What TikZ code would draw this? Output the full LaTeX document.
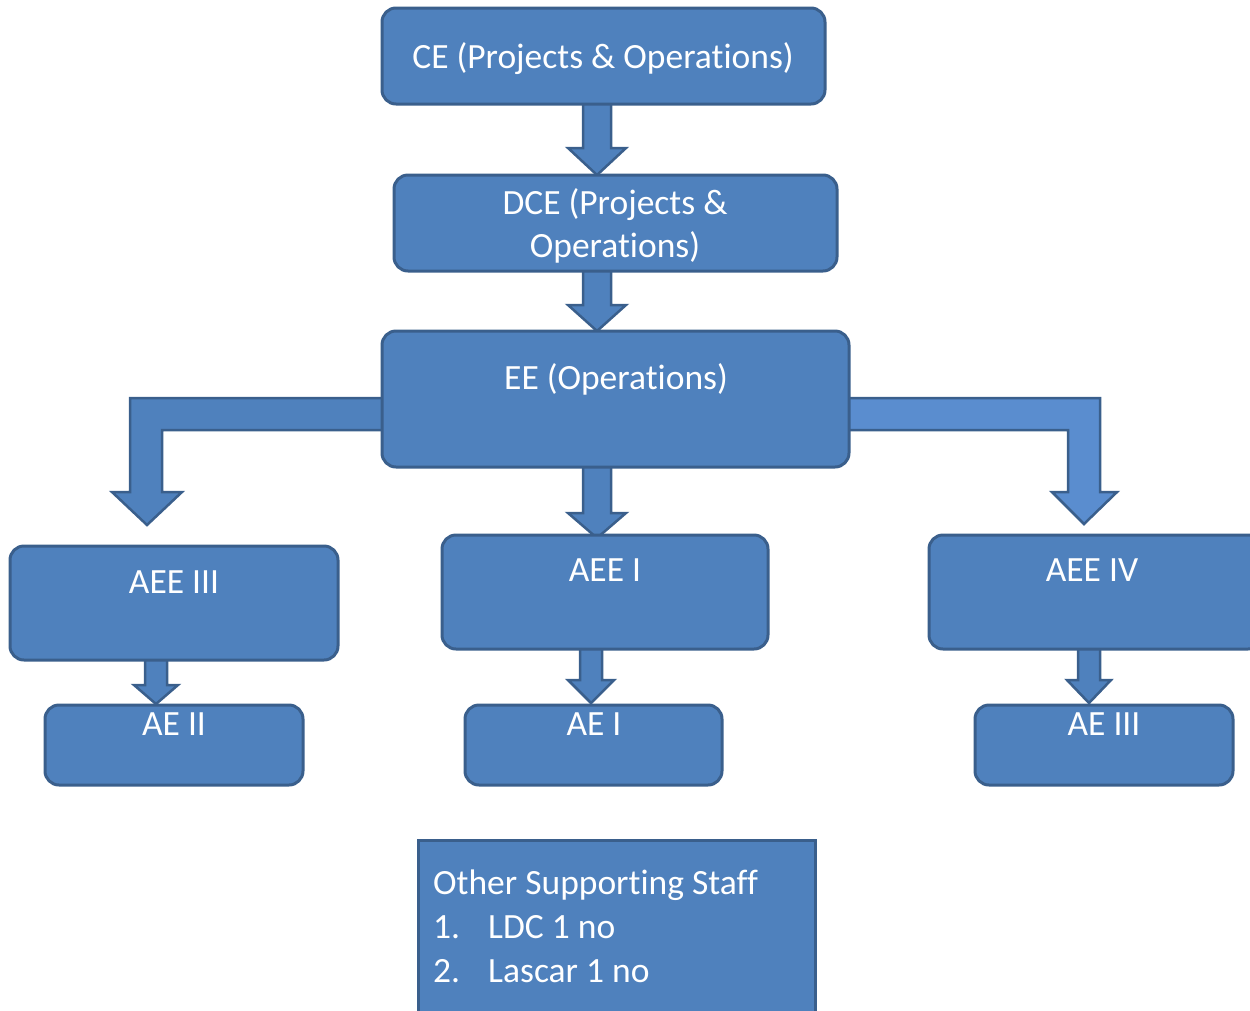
\documentclass[tikz,border=0pt]{standalone}
\usepackage{fontspec}
\setmainfont[Ligatures={NoCommon}]{Carlito}
\definecolor{boxfill}{HTML}{4F81BD}
\definecolor{boxline}{HTML}{3A5F8C}
\definecolor{lightfill}{HTML}{5A8DCF}
\tikzset{
  boxstyle/.style={draw=boxline, fill=boxfill, line width=3pt, rounded corners=14pt},
  squarebox/.style={draw=boxline, fill=boxfill, line width=3pt},
  arrowshape/.style={draw=boxline, fill=boxfill, line width=2.5pt, line join=miter},
  lbl/.style={text=white, font=\fontsize{35.5}{43}\selectfont, anchor=base, inner sep=0pt, align=center},
}
\newcommand{\dnarrow}[6]{%
  \draw[arrowshape] (#1-#4,#2) -- (#1-#4,#3-#6) -- (#1-#5,#3-#6) -- (#1,#3) -- (#1+#5,#3-#6) -- (#1+#4,#3-#6) -- (#1+#4,#2) -- cycle;}
\begin{document}
\begin{tikzpicture}[x=1pt,y=-1pt]
\useasboundingbox (0,0) rectangle (1250,1010);
\clip (0,0) rectangle (1250,1010);
% block arrows
\dnarrow{597}{100}{175}{14}{29}{27}
\dnarrow{597}{268}{331}{14}{29}{26}
\dnarrow{597}{464}{538}{14}{29}{25}
\dnarrow{156}{657}{704}{11}{22}{19}
\dnarrow{591}{646}{703}{11}{23}{23}
\dnarrow{1089}{646}{703}{11}{22}{23}
\draw[arrowshape] (385,398) -- (130,398) -- (130,492) -- (112,492) -- (147,525) -- (182,492) -- (162,492) -- (162,430) -- (385,430) -- cycle;
\draw[arrowshape, fill=lightfill] (846,398) -- (1100,398) -- (1100,492) -- (1117,492) -- (1084,524) -- (1052,492) -- (1068,492) -- (1068,430) -- (846,430) -- cycle;
% boxes
\draw[boxstyle] (382,8) rectangle (825,104);
\node[lbl] (ce) at (603,68) {CE (Projects \& Operations)};
\draw[boxstyle] (394,175) rectangle (837,271);
\node[lbl] (dce) at (615,257) {DCE (Projects \&\\Operations)};
\draw[boxstyle] (382,331) rectangle (849,467);
\node[lbl] (ee) at (616,389) {EE (Operations)};
\draw[boxstyle] (10,546) rectangle (338,660);
\node[lbl] (aee3) at (174,593) {AEE III};
\draw[boxstyle] (442,535) rectangle (768,649);
\node[lbl] (aee1) at (605,581) {AEE I};
\draw[boxstyle] (929,535) rectangle (1262,649);
\node[lbl] (aee4) at (1092,581) {AEE IV};
\draw[boxstyle] (45,705) rectangle (303,785);
\node[lbl] (ae2) at (174,735) {AE II};
\draw[boxstyle] (465,705) rectangle (722,785);
\node[lbl] (ae1) at (594,735) {AE I};
\draw[boxstyle] (975,705) rectangle (1233,785);
\node[lbl] (ae3) at (1104,735) {AE III};
% other staff
\draw[squarebox] (418,840) rectangle (815,1030);
\node[lbl, anchor=base west] (oss) at (433,894) {Other Supporting Staff};
\node[lbl, anchor=base west] (n1) at (433,938) {1.};
\node[lbl, anchor=base west] (l1) at (488,938) {LDC 1 no};
\node[lbl, anchor=base west] (n2) at (433,982) {2.};
\node[lbl, anchor=base west] (l2) at (488,982) {Lascar 1 no};
\end{tikzpicture}
\end{document}
